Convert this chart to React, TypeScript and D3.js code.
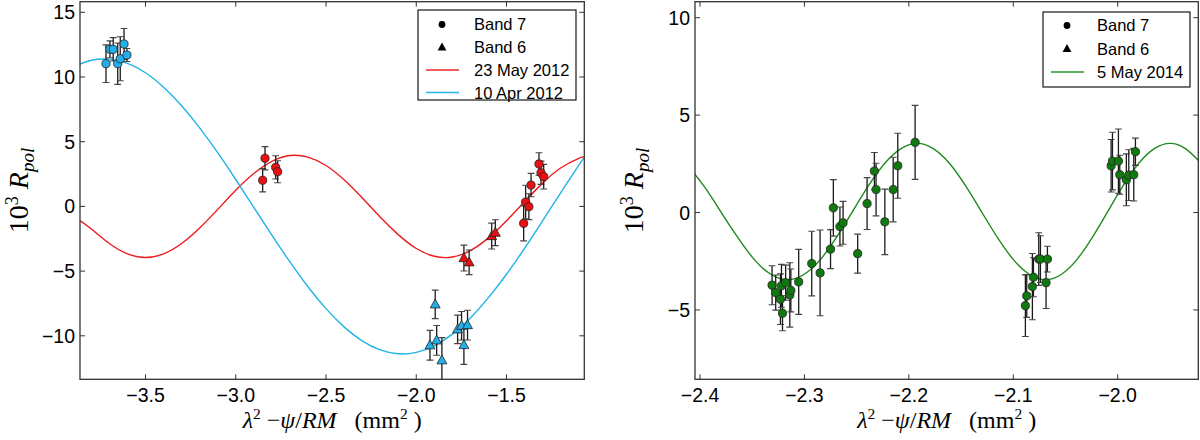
import React from "react";
import * as d3 from "d3";

// ---------- data: left panel (2012) ----------
const may2012Band7 = [
  { x: -2.851, y: 2.02, e: 0.9 },
  { x: -2.838, y: 3.72, e: 0.9 },
  { x: -2.779, y: 3.02, e: 0.9 },
  { x: -2.768, y: 2.68, e: 0.85 },
  { x: -1.405, y: -1.31, e: 1.35 },
  { x: -1.394, y: 0.34, e: 1.3 },
  { x: -1.376, y: -0.02, e: 1.0 },
  { x: -1.364, y: 1.65, e: 0.9 },
  { x: -1.32, y: 3.28, e: 0.87 },
  { x: -1.309, y: 2.6, e: 0.9 },
  { x: -1.294, y: 2.3, e: 0.95 },
];
const may2012Band6 = [
  { x: -1.736, y: -3.99, e: 1.0 },
  { x: -1.707, y: -4.32, e: 0.95 },
  { x: -1.582, y: -2.29, e: 1.0 },
  { x: -1.562, y: -2.03, e: 1.0 },
];
const apr2012Band7 = [
  { x: -3.719, y: 11.03, e: 1.45 },
  { x: -3.697, y: 12.14, e: 0.65 },
  { x: -3.679, y: 12.14, e: 0.9 },
  { x: -3.654, y: 11.03, e: 1.6 },
  { x: -3.64, y: 11.41, e: 1.7 },
  { x: -3.619, y: 12.55, e: 1.2 },
  { x: -3.603, y: 11.7, e: 0.5 },
];
const apr2012Band6 = [
  { x: -1.924, y: -10.73, e: 1.15 },
  { x: -1.895, y: -7.57, e: 1.1 },
  { x: -1.887, y: -10.35, e: 1.15 },
  { x: -1.858, y: -11.89, e: 1.75 },
  { x: -1.771, y: -9.5, e: 1.1 },
  { x: -1.749, y: -9.22, e: 1.1 },
  { x: -1.736, y: -10.71, e: 1.5 },
  { x: -1.716, y: -9.17, e: 1.15 },
];
// fitted curves
const may2012FitX = [-3.863, -3.8, -3.7, -3.6, -3.5, -3.4, -3.3, -3.2, -3.1, -3.0, -2.9, -2.8, -2.7, -2.6, -2.5, -2.4, -2.3, -2.2, -2.1, -2.0, -1.9, -1.8, -1.7, -1.6, -1.5, -1.4, -1.3, -1.2, -1.1, -1.069];
const may2012FitY = [-1.1, -1.75, -2.87, -3.67, -3.95, -3.67, -2.87, -1.67, -0.23, 1.25, 2.54, 3.48, 3.93, 3.81, 3.16, 2.06, 0.67, -0.82, -2.18, -3.25, -3.85, -3.91, -3.41, -2.43, -1.11, 0.37, 1.8, 2.97, 3.72, 3.85];
const apr2012FitX = [-3.863, -3.8, -3.7, -3.6, -3.5, -3.4, -3.3, -3.2, -3.1, -3.0, -2.9, -2.8, -2.7, -2.6, -2.5, -2.4, -2.3, -2.2, -2.1, -2.0, -1.9, -1.8, -1.7, -1.6, -1.5, -1.4, -1.3, -1.2, -1.1, -1.069];
const apr2012FitY = [11.0, 11.3, 11.38, 11.05, 10.33, 9.21, 7.78, 6.07, 4.15, 2.08, -0.08, -2.22, -4.29, -6.21, -7.9, -9.31, -10.39, -11.09, -11.39, -11.28, -10.77, -9.87, -8.62, -7.05, -5.24, -3.24, -1.11, 1.05, 3.17, 3.79];

// ---------- data: right panel (2014) ----------
const may2014Band7 = [
  { x: -2.331, y: -3.73, e: 1.0 },
  { x: -2.3275, y: -4.11, e: 0.9 },
  { x: -2.323, y: -4.45, e: 1.3 },
  { x: -2.321, y: -5.17, e: 0.9 },
  { x: -2.322, y: -3.76, e: 1.1 },
  { x: -2.318, y: -3.6, e: 0.9 },
  { x: -2.314, y: -4.23, e: 1.65 },
  { x: -2.313, y: -4.0, e: 1.1 },
  { x: -2.3055, y: -3.56, e: 1.67 },
  { x: -2.293, y: -2.62, e: 1.66 },
  { x: -2.285, y: -3.1, e: 2.2 },
  { x: -2.275, y: -1.88, e: 1.0 },
  { x: -2.2723, y: 0.24, e: 1.45 },
  { x: -2.266, y: -0.72, e: 1.0 },
  { x: -2.263, y: -0.53, e: 1.1 },
  { x: -2.249, y: -2.11, e: 1.0 },
  { x: -2.24, y: 0.46, e: 1.33 },
  { x: -2.233, y: 2.13, e: 0.95 },
  { x: -2.2314, y: 1.18, e: 1.35 },
  { x: -2.223, y: -0.48, e: 1.68 },
  { x: -2.215, y: 1.18, e: 1.66 },
  { x: -2.2106, y: 2.4, e: 1.67 },
  { x: -2.194, y: 3.6, e: 1.9 },
  { x: -2.0884, y: -4.78, e: 1.58 },
  { x: -2.0871, y: -4.28, e: 1.1 },
  { x: -2.0817, y: -3.8, e: 1.7 },
  { x: -2.0807, y: -3.32, e: 1.0 },
  { x: -2.0756, y: -2.39, e: 1.35 },
  { x: -2.074, y: -2.39, e: 1.2 },
  { x: -2.0673, y: -2.39, e: 0.66 },
  { x: -2.0686, y: -3.6, e: 1.33 },
  { x: -2.0063, y: 2.4, e: 1.35 },
  { x: -2.005, y: 2.64, e: 1.48 },
  { x: -1.9993, y: 2.64, e: 1.65 },
  { x: -1.998, y: 1.94, e: 1.0 },
  { x: -1.9917, y: 1.68, e: 1.33 },
  { x: -1.9894, y: 1.92, e: 1.3 },
  { x: -1.9846, y: 1.94, e: 1.35 },
  { x: -1.983, y: 3.12, e: 0.7 },
];
const may2014FitX = [-2.4114, -2.3955, -2.3796, -2.3637, -2.3478, -2.3319, -2.316, -2.3005, -2.285, -2.2695, -2.254, -2.2385, -2.223, -2.2075, -2.192, -2.1766, -2.1612, -2.1459, -2.1305, -2.1151, -2.0997, -2.0844, -2.069, -2.0541, -2.0393, -2.0244, -2.0095, -1.9946, -1.9798, -1.9649, -1.95, -1.9351, -1.9202];
const may2014FitY = [2.4, 1.3, 0.0, -1.29, -2.43, -3.18, -3.45, -3.18, -2.43, -1.29, 0.05, 1.39, 2.53, 3.28, 3.55, 3.28, 2.53, 1.39, 0.05, -1.29, -2.43, -3.18, -3.45, -3.18, -2.43, -1.29, 0.05, 1.39, 2.53, 3.28, 3.55, 3.28, 2.53];

// ---------- ticks ----------
const leftXTicks = [-3.5, -3.0, -2.5, -2.0, -1.5];
const leftYTicks = [-10, -5, 0, 5, 10, 15];
const rightXTicks = [-2.4, -2.3, -2.2, -2.1, -2.0];
const rightYTicks = [-5, 0, 5, 10];

const leftLegend = [
  { kind: "circle", label: "Band 7", color: "#000" },
  { kind: "triangle", label: "Band 6", color: "#000" },
  { kind: "line", label: "23 May 2012", color: "#ec2a2a" },
  { kind: "line", label: "10 Apr 2012", color: "#25b4e6" },
];
const rightLegend = [
  { kind: "circle", label: "Band 7", color: "#000" },
  { kind: "triangle", label: "Band 6", color: "#000" },
  { kind: "line", label: "5 May 2014", color: "#2a922a" },
];

const RED = "#ee1c1c";
const CYAN = "#1fb3e8";
const GREEN = "#1f8a1f";
const SANS = "'Liberation Sans', Arial, Helvetica, sans-serif";
const SERIF = "'Liberation Serif', 'DejaVu Serif', serif";

type Pt = { x: number; y: number; e: number };

function triPath(cx: number, cy: number, s: number) {
  const h = s * 0.95;
  return `M${cx},${cy - h * 0.62} L${cx + s * 0.55},${cy + h * 0.42} L${cx - s * 0.55},${cy + h * 0.42} Z`;
}

function ErrPoints({ data, xs, ys, fill, shape }: any) {
  return (
    <g>
      {data.map((d: Pt, i: number) => {
        const x = xs(d.x);
        const y0 = ys(d.y - d.e);
        const y1 = ys(d.y + d.e);
        return (
          <g key={"e" + i}>
            <line x1={x} x2={x} y1={y0} y2={y1} stroke="#1a1a1a" strokeWidth={1.3} />
            <line x1={x - 3.4} x2={x + 3.4} y1={y0} y2={y0} stroke="#444" strokeWidth={1.1} />
            <line x1={x - 3.4} x2={x + 3.4} y1={y1} y2={y1} stroke="#444" strokeWidth={1.1} />
          </g>
        );
      })}
      {data.map((d: Pt, i: number) => {
        const x = xs(d.x);
        const y = ys(d.y);
        return shape === "circle" ? (
          <circle key={"m" + i} cx={x} cy={y} r={4.1} fill={fill} stroke="#222" strokeWidth={0.8} />
        ) : (
          <path key={"m" + i} d={triPath(x, y, 9)} fill={fill} stroke="#222" strokeWidth={0.8} />
        );
      })}
    </g>
  );
}

function Panel({ id, xr, yr, xd, yd, xTicks, yTicks, xFmt, curves, points, legend, legendBox }: any) {
  const xs = d3.scaleLinear().domain(xd).range(xr);
  const ys = d3.scaleLinear().domain(yd).range(yr);
  const line = d3
    .line<[number, number]>()
    .x((d) => xs(d[0]))
    .y((d) => ys(d[1]))
    .curve(d3.curveNatural);
  const [x0, x1] = xr;
  const [yb, yt] = yr;
  const tl = 5;
  const cx = (x0 + x1) / 2;
  const cy = (yb + yt) / 2;
  const rowH = legendBox.rowH;
  return (
    <g>
      <defs>
        <clipPath id={id}>
          <rect x={x0} y={yt} width={x1 - x0} height={yb - yt} />
        </clipPath>
      </defs>
      <g clipPath={`url(#${id})`}>
        {curves.map((c: any, i: number) => (
          <path
            key={i}
            d={line(c.xs.map((x: number, k: number) => [x, c.ys[k]]) as any) || ""}
            fill="none"
            stroke={c.color}
            strokeWidth={1.4}
          />
        ))}
        {points.map((p: any, i: number) => (
          <ErrPoints key={i} data={p.data} xs={xs} ys={ys} fill={p.fill} shape={p.shape} />
        ))}
      </g>
      {/* frame */}
      <rect x={x0} y={yt} width={x1 - x0} height={yb - yt} fill="none" stroke="#333" strokeWidth={1.3} />
      {/* ticks */}
      {xTicks.map((t: number) => (
        <g key={"xt" + t}>
          <line x1={xs(t)} x2={xs(t)} y1={yb} y2={yb - tl} stroke="#333" strokeWidth={1} />
          <line x1={xs(t)} x2={xs(t)} y1={yt} y2={yt + tl} stroke="#333" strokeWidth={1} />
          <text x={xs(t)} y={yb + 22.5} textAnchor="middle" fontFamily={SANS} fontSize={19.5} fill="#000">
            {xFmt(t)}
          </text>
        </g>
      ))}
      {yTicks.map((t: number) => (
        <g key={"yt" + t}>
          <line x1={x0} x2={x0 + tl} y1={ys(t)} y2={ys(t)} stroke="#333" strokeWidth={1} />
          <line x1={x1} x2={x1 - tl} y1={ys(t)} y2={ys(t)} stroke="#333" strokeWidth={1} />
          <text x={x0 - 5} y={ys(t)} dy="0.36em" textAnchor="end" fontFamily={SANS} fontSize={19.5} fill="#000">
            {d3.format("d")(t)}
          </text>
        </g>
      ))}
      {/* x label */}
      <text x={cx} y={428} textAnchor="middle" fontFamily={SERIF} fontSize={24} fill="#000">
        <tspan fontStyle="italic">λ</tspan>
        <tspan dy={-9} fontSize={15.5}>2</tspan>
        <tspan dy={9}>{"\u00a0−"}</tspan>
        <tspan fontStyle="italic">ψ</tspan>
        <tspan>/</tspan>
        <tspan fontStyle="italic">RM</tspan>
        <tspan>{"\u00a0\u00a0\u00a0(mm"}</tspan>
        <tspan dy={-9} fontSize={15.5}>2</tspan>
        <tspan dy={9}>{"\u00a0)"}</tspan>
      </text>
      {/* y label */}
      <text
        transform={`translate(${x0 - 52},${cy}) rotate(-90)`}
        textAnchor="middle"
        fontFamily={SERIF}
        fontSize={28}
        fill="#000"
      >
        <tspan>10</tspan>
        <tspan dy={-10} fontSize={18}>3</tspan>
        <tspan dy={10}>{"\u00a0"}</tspan>
        <tspan fontStyle="italic">R</tspan>
        <tspan dy={6} fontSize={19} fontStyle="italic">pol</tspan>
      </text>
      {/* legend */}
      <rect
        x={legendBox.x}
        y={legendBox.y}
        width={legendBox.w}
        height={legendBox.h}
        fill="#fff"
        stroke="#000"
        strokeWidth={1.1}
      />
      {legend.map((l: any, i: number) => {
        const ry = legendBox.y + legendBox.first + i * rowH;
        const mx = legendBox.x + legendBox.mark;
        return (
          <g key={"lg" + i}>
            {l.kind === "circle" && <circle cx={mx} cy={ry} r={3.4} fill="#000" />}
            {l.kind === "triangle" && <path d={triPath(mx, ry, 8)} fill="#000" />}
            {l.kind === "line" && (
              <line x1={mx - 16} x2={mx + 17} y1={ry} y2={ry} stroke={l.color} strokeWidth={1.5} />
            )}
            <text
              x={legendBox.x + legendBox.text}
              y={ry}
              dy="0.36em"
              fontFamily={SANS}
              fontSize={16.5}
              fill="#000"
            >
              {l.label}
            </text>
          </g>
        );
      })}
    </g>
  );
}

export default function App() {
  const f1 = d3.format(".1f");
  return (
    <svg
      width={1200}
      height={440}
      style={{ position: "absolute", left: 0, top: 0, background: "#fff" }}
    >
      <rect x={0} y={0} width={1200} height={440} fill="#fff" />
      <Panel
        id="clipL"
        xr={[80, 584.3]}
        yr={[379.3, 1.7]}
        xd={[-3.863, -1.069]}
        yd={[-13.36, 15.82]}
        xTicks={leftXTicks}
        yTicks={leftYTicks}
        xFmt={f1}
        curves={[
          { xs: may2012FitX, ys: may2012FitY, color: RED },
          { xs: apr2012FitX, ys: apr2012FitY, color: CYAN },
        ]}
        points={[
          { data: may2012Band7, fill: "#e81010", shape: "circle" },
          { data: may2012Band6, fill: "#e81010", shape: "triangle" },
          { data: apr2012Band7, fill: "#22aee8", shape: "circle" },
          { data: apr2012Band6, fill: "#22aee8", shape: "triangle" },
        ]}
        legend={leftLegend}
        legendBox={{ x: 418, y: 10, w: 158, h: 90, first: 14.5, rowH: 22.7, mark: 24, text: 56 }}
      />
      <Panel
        id="clipR"
        xr={[695, 1198.3]}
        yr={[379.3, 1.7]}
        xd={[-2.4048, -1.9228]}
        yd={[-8.56, 10.82]}
        xTicks={rightXTicks}
        yTicks={rightYTicks}
        xFmt={f1}
        curves={[{ xs: may2014FitX, ys: may2014FitY, color: GREEN }]}
        points={[{ data: may2014Band7, fill: "#0e7a0e", shape: "circle" }]}
        legend={rightLegend}
        legendBox={{ x: 1043, y: 12, w: 147, h: 75, first: 13.5, rowH: 23.3, mark: 24, text: 54 }}
      />
    </svg>
  );
}
